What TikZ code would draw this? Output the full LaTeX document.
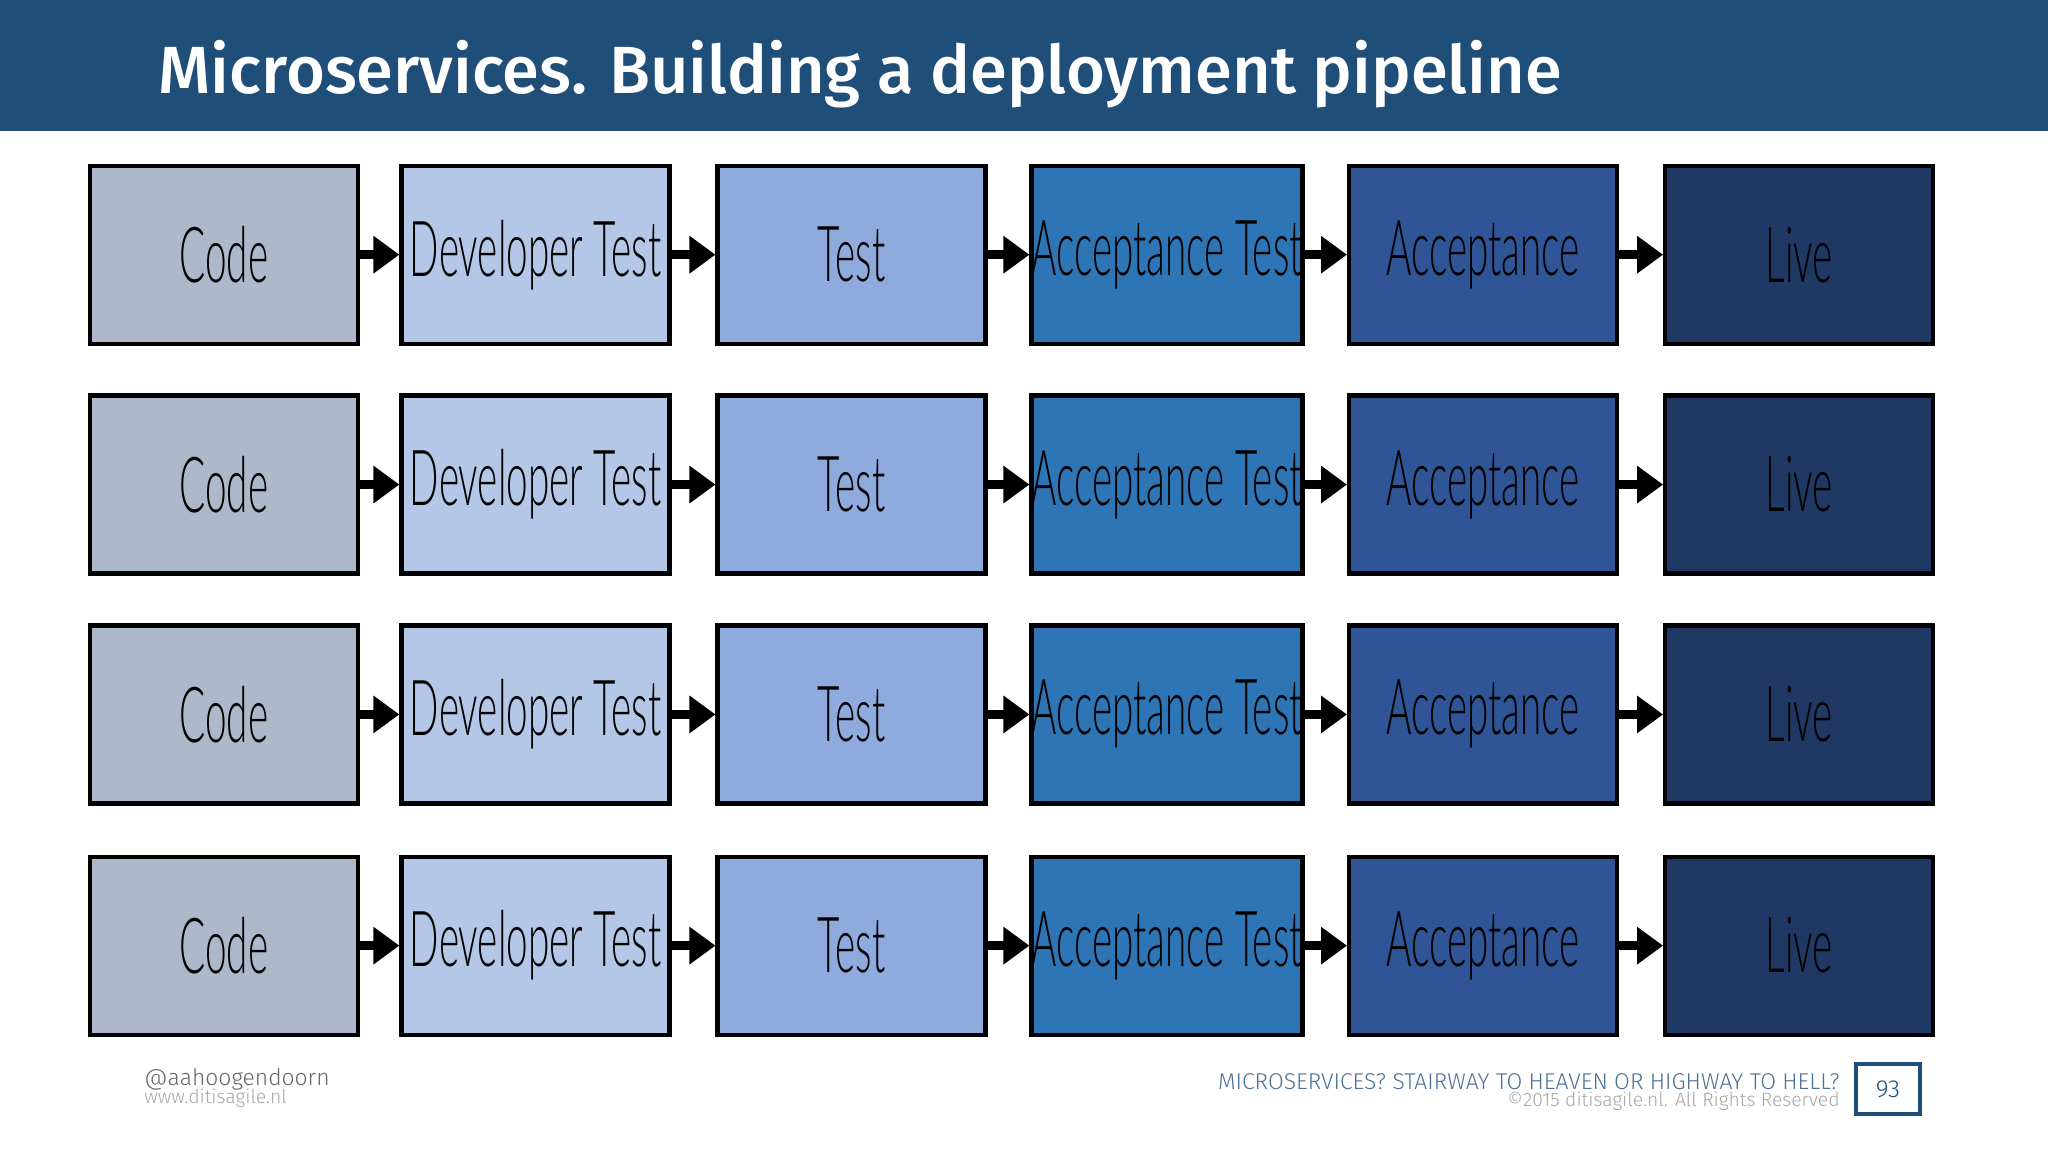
\documentclass[tikz,border=0pt]{standalone}
\usepackage{fontspec}
\setmainfont{Fira Sans}
\newfontfamily\titlefont{Fira Sans Medium}
\newfontfamily\footfont{Fira Sans Light}
\newfontfamily\stagefont{Lato Light}
\usetikzlibrary{arrows.meta,positioning}
\definecolor{headblue}{HTML}{1F4E79}
\definecolor{cCode}{HTML}{ADB9CA}
\definecolor{cDev}{HTML}{B4C7E7}
\definecolor{cTest}{HTML}{8FAADC}
\definecolor{cAccT}{HTML}{2E75B6}
\definecolor{cAcc}{HTML}{2F5597}
\definecolor{cLive}{HTML}{1F3864}
\tikzset{
  stage/.style={draw=black, line width=1.2pt, minimum width=2.68cm, minimum height=1.78cm, inner sep=0pt,
    font=\stagefont\fontsize{22}{22}\selectfont},
  flow/.style={-{Triangle[length=2.6mm,width=3.6mm]}, line width=2.6pt},
}
\begin{document}
\begin{tikzpicture}[x=0.013061cm,y=-0.013061cm]
\useasboundingbox (0,0) rectangle (1568,882);
\fill[headblue] (0,0) rectangle (1568,100);
\node[anchor=west, text=white, font=\titlefont\fontsize{19}{19}\selectfont] (title) at (112,57) {Microservices. Building a deployment pipeline};
\foreach \r/\y in {1/195,2/371,3/547,4/724} {
  \node[stage, fill=cCode] (code\r) at (171.5,\y) {\scalebox{0.5}[1]{Code}};
  \node[stage, fill=cDev] (dev\r) at (410,\y) {\scalebox{0.5}[1]{Developer Test}};
  \node[stage, fill=cTest] (test\r) at (652,\y) {\scalebox{0.5}[1]{Test}};
  \node[stage, fill=cAccT] (acct\r) at (893.5,\y) {\scalebox{0.5}[1]{Acceptance Test}};
  \node[stage, fill=cAcc] (acc\r) at (1135.5,\y) {\scalebox{0.5}[1]{Acceptance}};
  \node[stage, fill=cLive] (live\r) at (1377.5,\y) {\scalebox{0.5}[1]{Live}};
  \draw[flow] (code\r) -- (dev\r);
  \draw[flow] (dev\r) -- (test\r);
  \draw[flow] (test\r) -- (acct\r);
  \draw[flow] (acct\r) -- (acc\r);
  \draw[flow] (acc\r) -- (live\r);
}
% footer
\node[anchor=west, text=black!60, font=\footfont\fontsize{6.5}{6.5}\selectfont, inner sep=0pt] (handle) at (110,826) {@aahoogendoorn};
\node[anchor=west, text=black!35, font=\footfont\fontsize{5.5}{5.5}\selectfont, inner sep=0pt] (site) at (110,841) {www.ditisagile.nl};
\node[anchor=east, text=headblue!80, font=\footfont\fontsize{6.5}{6.5}\selectfont, inner sep=0pt] (talk) at (1409,828) {MICROSERVICES? STAIRWAY TO HEAVEN OR HIGHWAY TO HELL?};
\node[anchor=east, text=black!35, font=\footfont\fontsize{5.5}{5.5}\selectfont, inner sep=0pt] (copy) at (1409,843) {©2015 ditisagile.nl. All Rights Reserved};
\node[draw=headblue, line width=1.2pt, minimum width=0.64cm, minimum height=0.5cm, text=headblue, font=\footfont\fontsize{7}{7}\selectfont] (page) at (1445.5,834) {93};
\end{tikzpicture}
\end{document}
